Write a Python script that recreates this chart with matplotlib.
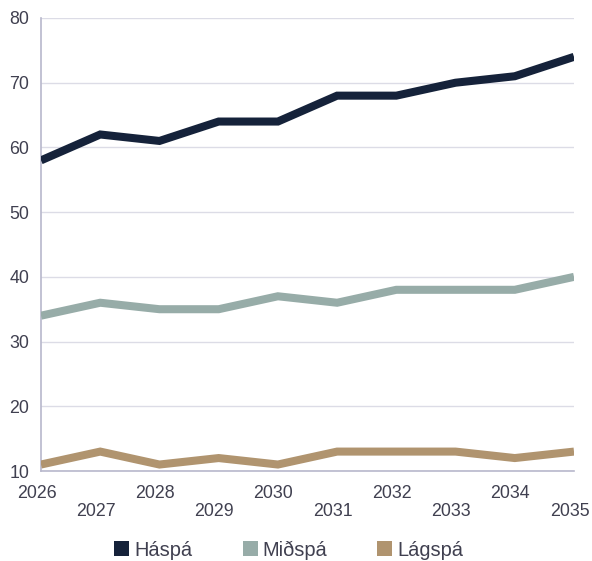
import matplotlib.pyplot as plt
import matplotlib.transforms as mtransforms
from matplotlib.patches import Patch

plt.rcParams['font.family'] = ['Liberation Sans', 'DejaVu Sans']

years = [2026, 2027, 2028, 2029, 2030, 2031, 2032, 2033, 2034, 2035]
haspa = [58, 62, 61, 64, 64, 68, 68, 70, 71, 74]
midspa = [34, 36, 35, 35, 37, 36, 38, 38, 38, 40]
lagspa = [11, 13, 11, 12, 11, 13, 13, 13, 12, 13]

names = ['Háspá', 'Miðspá', 'Lágspá']
colors = ['#15223a', '#97aca8', '#b0946f']
txt = '#404050'

fig = plt.figure(figsize=[5.92, 5.61], dpi=100)
ax = fig.add_axes([41 / 592, 1 - 471 / 561, 533 / 592, 453 / 561])

for vals, c in zip([haspa, midspa, lagspa], colors):
    ax.plot(years, vals, color=c, lw=5.8, solid_joinstyle='miter', solid_capstyle='butt', zorder=3)

ax.set_xlim(years[0], years[-1])
ax.set_ylim(10, 80)
ax.set_yticks(range(10, 81, 10))
ax.grid(axis='y', color='#dcdce6', lw=1)
ax.set_axisbelow(True)
for s in ['top', 'right']:
    ax.spines[s].set_visible(False)
for s in ['left', 'bottom']:
    ax.spines[s].set_color('#b8b8cc')
    ax.spines[s].set_linewidth(1.2)
ax.tick_params(axis='both', which='both', length=0, labelsize=12.8, colors=txt)
ax.tick_params(axis='y', pad=8.6)

# year labels on two rows: even years on top, odd years below
ax.set_xticks(years[0::2])
ax.set_xticklabels([str(y) for y in years[0::2]])
ax.set_xticks(years[1::2], minor=True)
ax.set_xticklabels([str(y) for y in years[1::2]], minor=True)
ax.tick_params(axis='x', which='major', pad=9.8)
ax.tick_params(axis='x', which='minor', pad=22.8)
shift = mtransforms.ScaledTranslation(-4.5 / 100, 0, fig.dpi_scale_trans)
for lab in ax.get_xticklabels() + ax.get_xticklabels(minor=True):
    lab.set_transform(lab.get_transform() + shift)

handles = [Patch(facecolor=c, edgecolor='none') for c in colors]
fig.legend(handles, names, loc='center', bbox_to_anchor=(0.488, 1 - 550 / 561), ncol=3,
           frameon=False, fontsize=14.4, handlelength=0.75, handleheight=0.75,
           handletextpad=0.25, columnspacing=2.5, labelcolor=txt,
           borderpad=0, borderaxespad=0)

plt.savefig('out.png', dpi=100)
